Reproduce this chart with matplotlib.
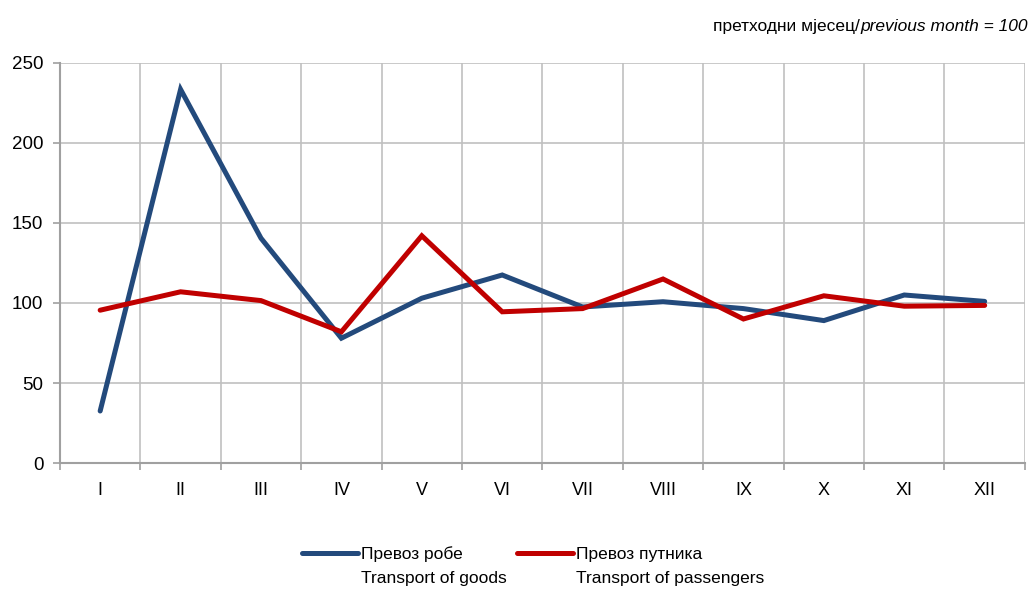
import matplotlib.pyplot as plt
from matplotlib.text import Annotation
from matplotlib.ticker import MultipleLocator, FixedLocator

plt.rcParams['font.family'] = ['Liberation Sans', 'DejaVu Sans']

months = ['I', 'II', 'III', 'IV', 'V', 'VI', 'VII', 'VIII', 'IX', 'X', 'XI', 'XII']
goods = [32.5, 233.5, 140.5, 78, 103, 117.5, 97.5, 100.8, 96.5, 89, 105, 101]
passengers = [95.5, 107, 101.5, 82, 142, 94.5, 96.5, 115, 90, 104.5, 98, 98.5]

names_sr = ['Превоз робе', 'Превоз путника']
names_en = ['Transport of goods', 'Transport of passengers']
colors = ['#234A7C', '#C00000']

fig = plt.figure(figsize=(10.32, 5.92), dpi=100)
ax = fig.add_axes([0.0581, 0.2179, 0.935, 0.6757])

x = list(range(len(months)))
for vals, name, c in zip([goods, passengers], names_sr, colors):
    ax.plot(x, vals, color=c, lw=3.6, solid_capstyle='round', solid_joinstyle='miter', label=name)

ax.set_xlim(-0.5, len(months) - 0.5)
ax.set_ylim(0, 250)
ax.yaxis.set_major_locator(MultipleLocator(50))
ax.set_xticks(x)
ax.set_xticklabels(months)
ax.xaxis.set_minor_locator(FixedLocator([i - 0.5 for i in range(len(months) + 1)]))
ax.tick_params(axis='x', which='major', length=0, pad=14, labelsize=13)
ax.tick_params(axis='x', which='minor', length=5, color='#a0a0a0', width=1.2)
ax.tick_params(axis='y', length=5, color='#a0a0a0', width=1.2, labelsize=13.5, pad=7)

ax.grid(True, axis='y', which='major', color='#c0c0c0', lw=1.2)
ax.grid(True, axis='x', which='minor', color='#c0c0c0', lw=1.2)
ax.set_axisbelow(True)
for side in ['top', 'right']:
    ax.spines[side].set_visible(False)
for side in ['left', 'bottom']:
    ax.spines[side].set_color('#a0a0a0')
    ax.spines[side].set_linewidth(1.5)

# header note: upright Cyrillic + italic English
t_it = fig.text(0.996, 0.955, 'previous month = 100', ha='right', va='center',
                fontsize=12.5, style='italic')
ax.annotate('претходни мјесец/', xy=(0, 0.5), xycoords=t_it, ha='right', va='center',
            fontsize=12.5, annotation_clip=False)

# legend: handle beside first line, second line below
leg = fig.legend(loc='upper left', bbox_to_anchor=(0.293, 0.077), ncol=2, frameon=False,
                 fontsize=12.5, handlelength=3.2, handletextpad=0.2, columnspacing=3.1,
                 borderaxespad=0, borderpad=0)
for txt, en in zip(leg.get_texts(), names_en):
    a = Annotation(en, xy=(0, -0.55), xycoords=txt, ha='left', va='top', fontsize=12.5,
                   annotation_clip=False)
    a.set_zorder(10)
    fig.add_artist(a)

fig.savefig('out.png', dpi=100)
